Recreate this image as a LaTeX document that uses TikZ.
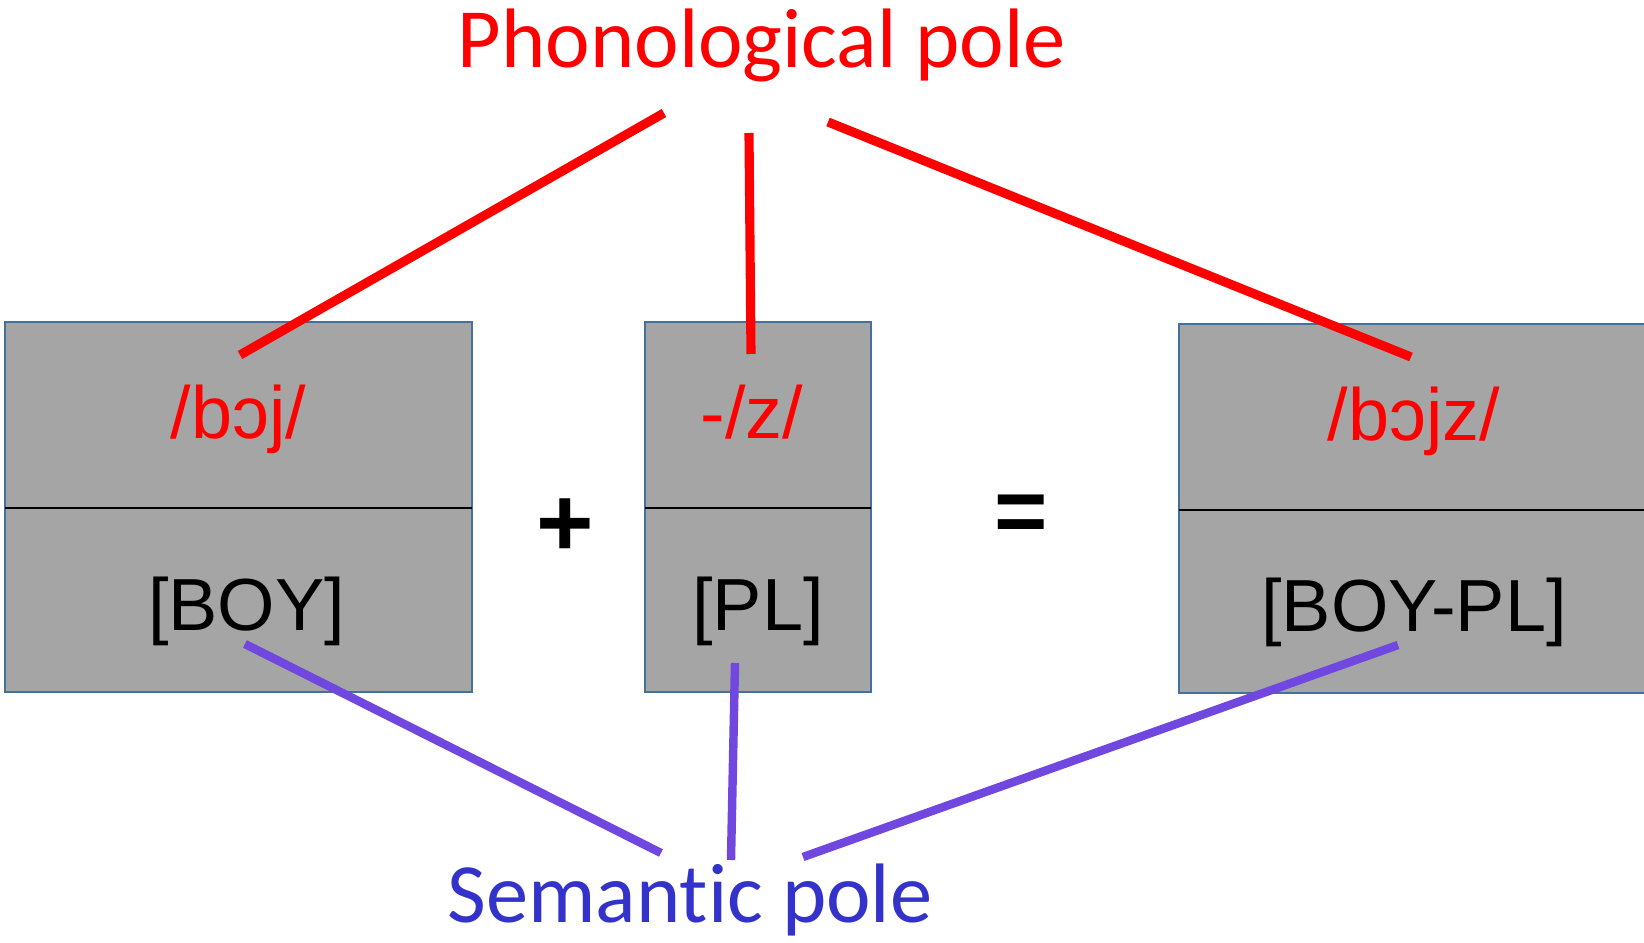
\documentclass[tikz,border=0pt]{standalone}
\usepackage{fontspec}
\setmainfont{Liberation Sans}
\newfontfamily\polefont[Ligatures=NoCommon]{Carlito}
\usetikzlibrary{positioning}
\definecolor{boxfill}{RGB}{165,165,165}
\definecolor{boxedge}{RGB}{65,113,156}
\definecolor{phonred}{RGB}{255,0,0}
\definecolor{semline}{RGB}{112,72,224}
\definecolor{semtext}{RGB}{51,51,204}
\tikzset{
  half/.style    ={fill=boxfill, inner sep=0pt, minimum height=1.84cm, font=\fontsize{21}{25}\selectfont},
  phon/.style    ={half, text=phonred, text height=0.60cm, text depth=0.14cm},
  sem/.style     ={half, text=black, text height=0.72cm, text depth=0.10cm},
  boxline/.style ={draw=boxedge, line width=0.7pt},
  divide/.style  ={draw=black, line width=0.45pt},
  op/.style      ={font=\fontsize{28}{30}\selectfont\bfseries, inner sep=0pt},
  pole/.style    ={font=\polefont\fontsize{24}{28}\selectfont, inner sep=0pt, anchor=base},
  phonlink/.style={draw=phonred, line width=2.6pt},
  semlink/.style ={draw=semline, line width=2.4pt}
}

\begin{document}
\begin{tikzpicture}[x=0.01cm, y=-0.01cm]
  \useasboundingbox (0,0) rectangle (1644,943);
  \node[phon, minimum width=4.65cm] (phonBoy)  at (238.5,415) {/bɔj/};
  \node[sem,  minimum width=4.65cm] (semBoy)   at (238.5,599) {\hspace*{0.16cm}[BOY]};
  \node[phon, minimum width=2.24cm] (phonPl)   at (758,415)   {-/z/\hspace*{0.12cm}};
  \node[sem,  minimum width=2.24cm] (semPl)    at (758,599)   {[PL]};
  \node[phon, minimum width=4.68cm] (phonBoys) at (1414,417)  {/bɔjz/};
  \node[sem,  minimum width=4.68cm] (semBoys)  at (1414,600.5){[BOY-PL]};
  \draw[boxline] (phonBoy.north west) rectangle (semBoy.south east);
  \draw[boxline] (phonPl.north west) rectangle (semPl.south east);
  \draw[boxline] (phonBoys.north west) rectangle (semBoys.south east);
  \draw[divide] (phonBoy.south west) -- (phonBoy.south east);
  \draw[divide] (phonPl.south west) -- (phonPl.south east);
  \draw[divide] (phonBoys.south west) -- (phonBoys.south east);
  \node[op] (plus) at (565.5,527.5) {+};
  \node[op, font=\fontsize{26}{30}\selectfont\bfseries] (eq) at (1021,518.5) {=};
  \node[pole, text=phonred] (phonTitle) at (762,68)  {Phonological pole};
  \node[pole, text=semtext] (semTitle)  at (690,923) {Semantic pole};
  \coordinate (pa) at (664,113);  \coordinate (pa') at (240,355);
  \coordinate (pb) at (749,133);  \coordinate (pb') at (751,354);
  \coordinate (pc) at (828,122);  \coordinate (pc') at (1411,357);
  \coordinate (sa) at (661,853);  \coordinate (sa') at (245,644);
  \coordinate (sb) at (731,860);  \coordinate (sb') at (735,663);
  \coordinate (sc) at (803,857);  \coordinate (sc') at (1398,645);
  \draw[phonlink] (pa) -- (pa');
  \draw[phonlink] (pb) -- (pb');
  \draw[phonlink] (pc) -- (pc');
  \draw[semlink] (sa) -- (sa');
  \draw[semlink] (sb) -- (sb');
  \draw[semlink] (sc) -- (sc');
\end{tikzpicture}
\end{document}
